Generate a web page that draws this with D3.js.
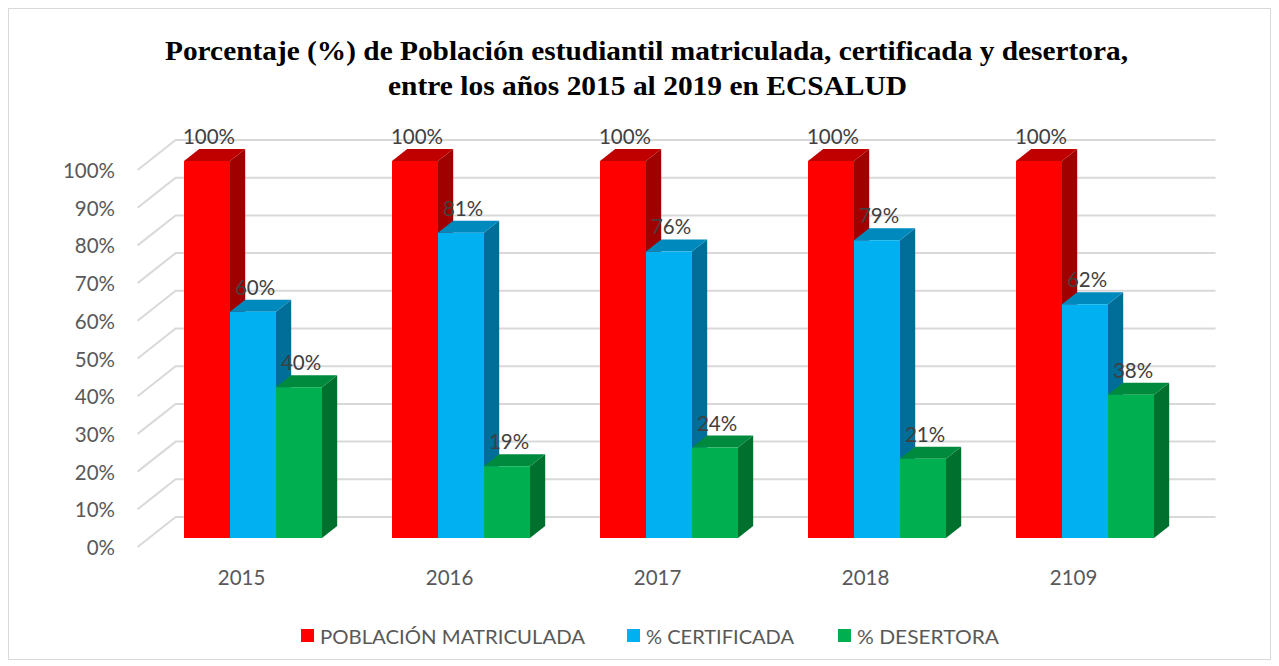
<!DOCTYPE html>
<html>
<head>
<meta charset="utf-8">
<script src="https://cdn.jsdelivr.net/npm/d3@7"></script>
<style>
  html, body { margin: 0; padding: 0; background: #ffffff; }
  svg { display: block; }
</style>
</head>
<body>
<svg id="chart" width="1279" height="666"></svg>
<script>
// Data
const years = ["2015", "2016", "2017", "2018", "2109"];
const seriesNames = ["POBLACIÓN MATRICULADA", "% CERTIFICADA", "% DESERTORA"];
const matriculada = [100, 100, 100, 100, 100];
const certificada = [60, 81, 76, 79, 62];
const desertora = [40, 19, 24, 21, 38];
const yTicks = [0, 10, 20, 30, 40, 50, 60, 70, 80, 90, 100];
const titleLines = [
  "Porcentaje (%) de Población estudiantil matriculada, certificada y desertora,",
  "entre los años 2015 al 2019 en ECSALUD"
];

const seriesValues = [matriculada, certificada, desertora];
const faceColors = [
  { front: "#FF0000", top: "#C00000", side: "#A00000" },
  { front: "#00B0F0", top: "#0089BC", side: "#006E98" },
  { front: "#00B050", top: "#008A3E", side: "#00702F" }
];

const FONT = "Lato, 'Open Sans', sans-serif";
const svg = d3.select("#chart");
const W = 1279, H = 666;

// Outer chart border
svg.append("rect")
  .attr("x", 8.5).attr("y", 8.5)
  .attr("width", W - 17).attr("height", H - 15)
  .attr("fill", "#fff").attr("stroke", "#d9d9d9").attr("stroke-width", 1);

// Oblique 3D projection: depth z in [0,1] shifts right and up
const DX = 38, DY = 30;
const Z_FRONT = 0.3, Z_BACK = 0.7;

const x0 = d3.scaleBand().domain(years)
  .range([137.6, 1177.6])
  .paddingInner(0.3365).paddingOuter(0.16825);
const x1 = d3.scaleBand().domain(seriesNames).range([0, x0.bandwidth()]);
const y = d3.scaleLinear().domain([0, 100]).range([547, 170]);

const P = (x, v, z) => [x + DX * z, y(v) - DY * z];
const poly = pts => pts.map(p => p.join(",")).join(" ");

// Gridlines: left side wall segment and back wall segment
const xLeft = x0.range()[0], xRight = x0.range()[1];
const grid = svg.append("g").attr("stroke", "#d9d9d9").attr("stroke-width", 2).attr("fill", "none");
yTicks.forEach(t => {
  const a = P(xLeft, t, 0), b = P(xLeft, t, 1), c = P(xRight, t, 1);
  grid.append("polyline").attr("points", poly([a, b, c]));
});

// Y axis labels
svg.append("g").selectAll("text").data(yTicks).join("text")
  .attr("x", 115).attr("y", d => y(d))
  .attr("text-anchor", "end").attr("dominant-baseline", "central")
  .attr("font-family", FONT).attr("font-size", 20.5)
  .attr("fill", "#595959")
  .text(d => d + "%");

// Category labels
svg.append("g").selectAll("text").data(years).join("text")
  .attr("x", d => x0(d) + x0.bandwidth() / 2)
  .attr("y", 577)
  .attr("text-anchor", "middle").attr("dominant-baseline", "central")
  .attr("font-family", FONT).attr("font-size", 20.5)
  .attr("fill", "#595959")
  .text(d => d);

// Bars, painted left to right so later fronts hide earlier sides
const bars = svg.append("g");
years.forEach((yr, i) => {
  seriesNames.forEach((s, j) => {
    const v = seriesValues[j][i];
    const xa = x0(yr) + x1(s), xb = xa + x1.bandwidth();
    const c = faceColors[j];
    const g = bars.append("g");
    // side
    g.append("polygon")
      .attr("points", poly([P(xb, 0, Z_FRONT), P(xb, v, Z_FRONT), P(xb, v, Z_BACK), P(xb, 0, Z_BACK)]))
      .attr("fill", c.side);
    // top
    g.append("polygon")
      .attr("points", poly([P(xa, v, Z_FRONT), P(xb, v, Z_FRONT), P(xb, v, Z_BACK), P(xa, v, Z_BACK)]))
      .attr("fill", c.top);
    // front
    g.append("polygon")
      .attr("points", poly([P(xa, 0, Z_FRONT), P(xb, 0, Z_FRONT), P(xb, v, Z_FRONT), P(xa, v, Z_FRONT)]))
      .attr("fill", c.front);
  });
});

// Data labels
const labels = svg.append("g");
years.forEach((yr, i) => {
  seriesNames.forEach((s, j) => {
    const v = seriesValues[j][i];
    const xa = x0(yr) + x1(s);
    const cx = P(xa + x1.bandwidth() / 2, v, Z_FRONT)[0] + 2;
    const cy = P(xa, v, Z_BACK)[1] - 13;
    labels.append("text")
      .attr("x", cx).attr("y", cy)
      .attr("text-anchor", "middle").attr("dominant-baseline", "central")
      .attr("font-family", FONT).attr("font-size", 20.5)
      .attr("fill", "#404040")
      .text(v + "%");
  });
});

// Title
const title = svg.append("g");
const titleSpans = [[165, 1128, 60], [388, 907, 95]];
titleLines.forEach((t, k) => {
  const [xs, xe, yb] = titleSpans[k];
  title.append("text")
    .attr("x", (xs + xe) / 2).attr("y", yb)
    .attr("text-anchor", "middle")
    .attr("font-family", "'Liberation Serif', 'Times New Roman', serif")
    .attr("font-weight", "bold").attr("font-size", 28)
    .attr("textLength", xe - xs).attr("lengthAdjust", "spacingAndGlyphs")
    .attr("fill", "#000")
    .text(t);
});

// Legend
const legendX = [301, 627, 838];
const legendW = [265, 148, 142];
const legend = svg.append("g");
seriesNames.forEach((s, j) => {
  legend.append("rect")
    .attr("x", legendX[j]).attr("y", 629)
    .attr("width", 13).attr("height", 13)
    .attr("fill", faceColors[j].front);
  legend.append("text")
    .attr("x", legendX[j] + 19).attr("y", 636)
    .attr("dominant-baseline", "central")
    .attr("font-family", FONT).attr("font-size", 20)
    .attr("textLength", legendW[j]).attr("lengthAdjust", "spacingAndGlyphs")
    .attr("fill", "#595959")
    .text(s);
});
</script>
</body>
</html>
